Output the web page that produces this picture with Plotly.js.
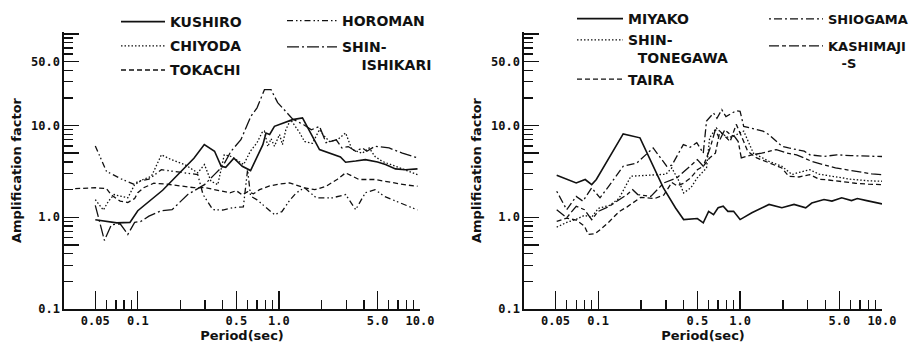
<!DOCTYPE html>
<html><head><meta charset="utf-8">
<script src="https://cdn.plot.ly/plotly-3.0.1.min.js"></script>
<style>html,body{margin:0;padding:0;background:#fff}#chart{width:914px;height:346px}</style>
</head><body><div id="chart"></div>
<script>
// ---------- data (period in sec, amplification factor) ----------
const kushiroT = [0.05,0.06,0.071,0.088,0.1,0.15,0.25,0.296,0.35,0.39,0.42,0.48,0.55,0.63,0.72,0.77,0.81,0.86,0.93,1.07,1.25,1.47,1.94,2.73,2.97,3.5,4.1,5.0,5.7,6.7,7.9,9.6];
const kushiroA = [0.94,0.9,0.87,0.88,1.18,1.97,4.4,6.2,5.25,3.6,3.5,4.4,3.6,3.23,5.0,6.2,8.3,8.0,9.8,10.7,11.6,12.1,5.47,4.55,3.98,4.1,4.25,4.0,3.76,3.37,3.3,3.37];

const chiyodaT = [0.05,0.057,0.062,0.068,0.075,0.085,0.095,0.11,0.125,0.147,0.173,0.215,0.266,0.297,0.33,0.369,0.41,0.458,0.563,0.628,0.7,0.76,0.79,0.835,0.88,0.93,1.01,1.06,1.12,1.21,1.4,1.52,1.73,1.94,2.05,2.28,2.6,2.97,3.3,3.9,4.36,4.8,5.4,6.7,7.9,9.6];
const chiyodaA = [1.56,1.2,1.5,1.77,1.7,1.63,2.27,2.6,2.8,4.8,4.25,3.76,3.05,3.76,2.47,2.27,4.8,4.6,3.76,5.25,6.5,8.4,8.7,5.9,7.2,5.95,8.0,6.2,9.0,11.6,8.4,6.7,6.4,9.05,8.0,6.7,7.0,8.3,5.47,5.0,5.7,4.6,4.07,3.6,3.3,2.92];

const tokachiT = [0.036,0.05,0.06,0.065,0.075,0.085,0.095,0.1,0.11,0.13,0.16,0.2,0.25,0.3,0.35,0.4,0.45,0.5,0.55,0.6,0.66,0.73,0.86,1.0,1.19,1.52,1.8,2.16,2.6,2.97,3.7,4.8,6.4,8.0,9.6];
const tokachiA = [2.05,2.1,2.05,1.75,1.5,1.45,1.6,1.85,2.1,2.35,2.3,2.2,2.1,2.1,2.0,1.9,1.85,1.95,1.75,1.9,1.8,2.0,2.2,2.3,2.37,2.09,2.0,2.18,2.6,3.05,2.58,2.58,2.37,2.25,2.18];

const horomanT = [0.05,0.06,0.077,0.095,0.1,0.12,0.147,0.2,0.266,0.29,0.34,0.4,0.47,0.56,0.6,0.63,0.7,0.8,0.93,1.05,1.2,1.33,1.52,1.84,2.4,2.97,3.5,4.1,4.8,5.6,6.7,9.6];
const horomanA = [6.0,3.17,2.6,2.27,2.47,2.6,3.3,3.1,2.92,1.77,1.21,1.2,1.27,1.3,3.3,1.7,1.55,1.3,1.07,1.15,1.55,1.85,2.1,1.63,1.63,1.77,1.21,1.85,2.0,1.69,1.5,1.2];

const shinIshikariT = [0.05,0.058,0.065,0.075,0.085,0.095,0.105,0.12,0.147,0.175,0.226,0.297,0.349,0.4,0.458,0.538,0.633,0.70,0.79,0.88,0.98,1.1,1.25,1.5,1.7,1.94,2.16,2.55,2.8,3.1,3.5,3.9,4.2,4.8,6.04,7.5,9.6];
const shinIshikariA = [1.35,0.56,0.83,0.85,0.65,0.88,0.9,1.03,1.18,1.21,1.77,2.27,2.92,3.6,5.25,7.0,12.6,15.6,24.6,24.6,17.8,14.5,11.8,10.2,9.0,9.8,6.5,7.0,5.7,5.9,5.25,5.7,5.25,5.95,5.7,5.0,4.44];

const miyakoT = [0.051,0.06,0.07,0.081,0.09,0.097,0.15,0.197,0.245,0.288,0.35,0.4,0.5,0.55,0.6,0.65,0.7,0.76,0.82,0.9,1.0,1.21,1.6,1.97,2.4,2.9,3.2,3.9,4.44,5.2,6.1,6.7,7.8,10];
const miyakoA = [2.87,2.6,2.37,2.58,2.27,2.58,8.1,7.35,3.5,2.09,1.27,0.944,0.97,0.87,1.16,1.07,1.27,1.32,1.16,1.16,0.944,1.12,1.38,1.27,1.38,1.27,1.43,1.56,1.5,1.63,1.52,1.6,1.52,1.4];

const shinTonegawaT = [0.051,0.06,0.07,0.08,0.09,0.1,0.12,0.14,0.17,0.2,0.25,0.3,0.33,0.37,0.4,0.45,0.5,0.58,0.61,0.68,0.76,0.83,0.95,1.06,1.24,1.6,1.97,2.32,2.53,3.1,3.6,4.2,5.0,6.0,8.0,10];
const shinTonegawaA = [0.78,0.88,0.95,1.05,1.0,1.25,1.35,1.6,2.8,2.85,2.9,2.95,3.45,2.5,1.84,2.1,2.7,3.45,7.35,9.4,8.0,7.35,8.0,8.7,5.0,4.07,3.6,2.92,3.05,3.3,2.95,2.85,2.75,2.6,2.5,2.47];

const tairaT = [0.051,0.06,0.07,0.08,0.085,0.095,0.105,0.12,0.14,0.16,0.2,0.25,0.29,0.33,0.36,0.4,0.45,0.5,0.55,0.61,0.67,0.72,0.85,0.94,1.06,1.13,1.31,1.6,1.97,2.2,2.6,3.1,3.6,4.2,5.0,6.5,8.0,10];
const tairaA = [0.9,0.98,0.93,0.8,0.65,0.66,0.75,0.9,1.15,1.3,1.65,1.6,1.75,2.4,2.2,2.35,2.7,3.3,3.6,4.44,5.0,8.7,6.7,10.3,6.7,5.25,4.44,3.9,3.45,2.8,2.75,2.92,2.6,2.55,2.45,2.35,2.3,2.27];

const shiogamaT = [0.051,0.06,0.07,0.078,0.09,0.103,0.121,0.15,0.187,0.244,0.304,0.331,0.398,0.444,0.495,0.55,0.58,0.65,0.687,0.743,0.795,0.865,0.937,1.0,1.06,1.16,1.45,1.59,1.97,2.2,2.83,3.1,3.9,4.8,6.0,10];
const shiogamaA = [1.92,1.21,1.69,1.5,2.09,1.63,2.27,3.6,3.9,5.7,3.6,3.7,6.2,5.8,6.5,5.0,11.2,13.7,12.0,14.9,12.5,13.5,14.5,14.3,9.8,9.5,8.7,8.0,5.95,5.7,5.25,4.8,4.6,4.8,4.7,4.6];

const kashimajiT = [0.051,0.06,0.07,0.08,0.09,0.1,0.12,0.14,0.16,0.175,0.19,0.235,0.29,0.36,0.44,0.5,0.55,0.61,0.67,0.72,0.78,0.85,0.92,0.97,1.02,1.21,1.42,1.67,1.8,2.14,2.5,3.2,3.9,4.7,6.1,8.5,10];
const kashimajiA = [1.21,0.99,1.32,1.21,0.94,1.16,1.32,1.56,1.77,2.0,1.77,1.69,2.37,2.7,3.6,4.25,3.6,5.47,9.05,7.0,9.0,8.0,7.5,6.7,4.44,4.8,5.0,5.25,5.47,5.0,4.8,4.07,3.76,3.45,3.23,2.97,2.92];

// tick labels
const xTickVals = [0.05,0.1,0.5,1,5,10];
const xTickText = ['0.05','0.1','0.5','1.0','5.0','10.0'];
const xMinorVals = [0.06,0.07,0.08,0.09,0.2,0.3,0.4,0.6,0.7,0.8,0.9,2,3,4,6,7,8,9];
const yTickVals = [0.1,0.5,1,5,10,50,100];
const yTickText = ['0.1','','1.0','','10.0','50.0',''];
const yMinorVals = [0.2,0.3,0.4,0.6,0.7,0.8,0.9,2,3,4,6,7,8,9,20,30,40,60,70,80,90];

// ---------- styles ----------
const INK = '#111';
const DOT = '1.5px,2px';
const DASH = '5px,3px';
const DASHDOTDOT = '6px,3px,1.5px,2.5px,1.5px,3px';
const LONGDASHDOT = '12px,3px,2px,3px';
const DOTDASH = '2px,3px,8px,3px';
const LDASHDOT2 = '10px,3px,4px,3px';
const NB = '\u00A0';

function tr(name, T, A, dash, xa, ya, lg, w) {
  return {type:'scatter', mode:'lines', name:name, x:T, y:A, xaxis:xa, yaxis:ya,
    legend:lg, legendgroup:name,
    line:{color:INK, width:w||1.3, dash:dash}, hoverinfo:'skip'};
}

const data = [
  tr('KUSHIRO', kushiroT, kushiroA, 'solid', 'x', 'y', 'legend', 1.6),
  tr('CHIYODA', chiyodaT, chiyodaA, DOT, 'x', 'y', 'legend'),
  tr('TOKACHI', tokachiT, tokachiA, DASH, 'x', 'y', 'legend'),
  tr('HOROMAN', horomanT, horomanA, DASHDOTDOT, 'x', 'y', 'legend2'),
  tr('SHIN-<br>' + NB.repeat(4) + 'ISHIKARI', shinIshikariT, shinIshikariA, LONGDASHDOT, 'x', 'y', 'legend2'),
  tr('MIYAKO', miyakoT, miyakoA, 'solid', 'x2', 'y2', 'legend3', 1.6),
  tr('SHIN-<br>' + NB.repeat(2) + 'TONEGAWA', shinTonegawaT, shinTonegawaA, DOT, 'x2', 'y2', 'legend3'),
  tr('TAIRA', tairaT, tairaA, DASH, 'x2', 'y2', 'legend3'),
  tr('SHIOGAMA', shiogamaT, shiogamaA, DOTDASH, 'x2', 'y2', 'legend4'),
  tr('KASHIMAJI<br>' + NB.repeat(3) + '-S', kashimajiT, kashimajiA, LDASHDOT2, 'x2', 'y2', 'legend4')
];

const W = 914, PT = 32, PB = 309, PH = PB - PT;
const px2x = p => p / W;
const px2y = p => (PB - p) / PH;

const tickFont = {family:'DejaVu Sans Mono', size:12, color:INK, weight:'bold'};
const titleFont = {family:'DejaVu Sans', size:13, color:INK, weight:'bold'};

function xAxis(dom) {
  return {type:'log', domain:dom, range:[Math.log10(0.03), 1], showgrid:false, zeroline:false,
    showline:true, linecolor:INK, linewidth:1.6, ticks:'inside', ticklen:18, tickwidth:1.4, tickcolor:INK,
    tickmode:'array', tickvals:xTickVals, ticktext:xTickText, tickfont:tickFont,
    minor:{tickmode:'array', tickvals:xMinorVals, ticks:'inside', ticklen:9, tickwidth:1.4, tickcolor:INK, showgrid:false},
    title:{text:'Period(sec)', font:titleFont, standoff:2}, fixedrange:true};
}
function yAxis(anchor) {
  return {type:'log', anchor:anchor, domain:[0,1], range:[-1, 2.02], showgrid:false, zeroline:false,
    showline:true, linecolor:INK, linewidth:1.6, ticks:'inside', ticklen:15, tickwidth:1.4, tickcolor:INK,
    tickmode:'array', tickvals:yTickVals, ticktext:yTickText, tickfont:tickFont,
    minor:{tickmode:'array', tickvals:yMinorVals, ticks:'inside', ticklen:9, tickwidth:1.4, tickcolor:INK, showgrid:false},
    title:{text:'Amplification factor', font:titleFont, standoff:6}, fixedrange:true};
}
function leg(xp, yp, iw, gap, fs) {
  return {x:px2x(xp), y:px2y(yp), xanchor:'left', yanchor:'top', bgcolor:'rgba(0,0,0,0)',
    font:{family:'DejaVu Sans', size:fs, color:INK, weight:'bold'},
    traceorder:'grouped', tracegroupgap:gap, itemwidth:iw, valign:'top', borderwidth:0};
}

const layout = {
  width:W, height:346, margin:{l:0, r:0, t:PT, b:346-PB, autoexpand:false},
  paper_bgcolor:'#fff', plot_bgcolor:'#fff', showlegend:true,
  xaxis: Object.assign(xAxis([64/W, 420/W]), {anchor:'y'}),
  yaxis: yAxis('x'),
  xaxis2: Object.assign(xAxis([524/W, 882/W]), {anchor:'y2'}),
  yaxis2: yAxis('x2'),
  legend: leg(116, 6, 44, 3, 14),
  legend2: leg(282, 5, 50, 5, 14),
  legend3: leg(572, 3, 46, 0, 14),
  legend4: leg(764, 4, 54, 7, 13)
};

Plotly.newPlot('chart', data, layout, {staticPlot:true, displayModeBar:false});
</script></body></html>
